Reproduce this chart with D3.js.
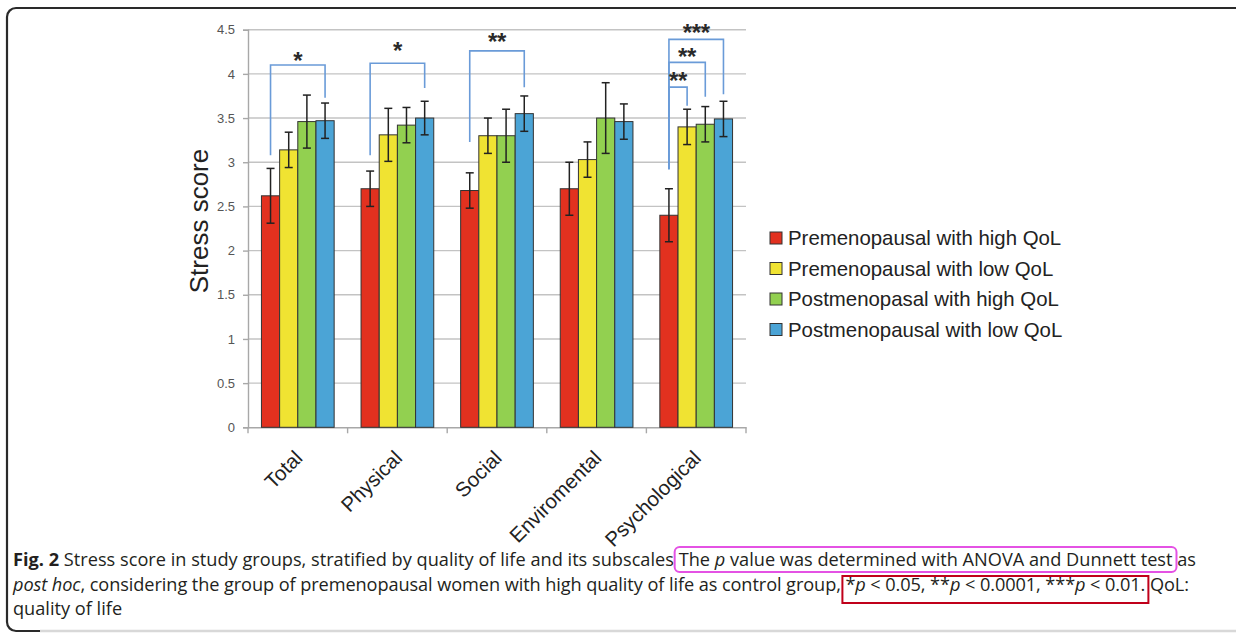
<!DOCTYPE html>
<html><head><meta charset="utf-8">
<script src="https://cdn.jsdelivr.net/npm/d3@7"></script>
<style>
html,body{margin:0;padding:0;background:#fff;}
svg{display:block;}
</style></head>
<body>
<svg id="c" width="1236" height="633"></svg>
<script>
// ---------- data ----------
const categories = ["Total", "Physical", "Social", "Enviromental", "Psychological"];
const seriesNames = ["Premenopausal with high QoL", "Premenopausal with low QoL", "Postmenopasal with high QoL", "Postmenopausal with low QoL"];
const seriesColors = ["#e2311f", "#f0e332", "#92d050", "#4ba4d6"];
const preHigh  = [2.62, 2.70, 2.68, 2.70, 2.40];
const preLow   = [3.14, 3.31, 3.30, 3.03, 3.40];
const postHigh = [3.46, 3.42, 3.30, 3.50, 3.43];
const postLow  = [3.47, 3.50, 3.55, 3.46, 3.49];
const errPreHigh  = [0.31, 0.20, 0.20, 0.30, 0.30];
const errPreLow   = [0.20, 0.30, 0.20, 0.20, 0.20];
const errPostHigh = [0.30, 0.20, 0.30, 0.40, 0.20];
const errPostLow  = [0.20, 0.19, 0.20, 0.20, 0.20];
const yTicks = [0, 0.5, 1, 1.5, 2, 2.5, 3, 3.5, 4, 4.5];
const yTitle = "Stress score";
// significance brackets: [category, from series, to series, y start, y top, y end, label y, label]
const brackets = [
  ["Total", 0, 3, 3.08, 4.10, 3.73, 4.18, "*"],
  ["Physical", 0, 3, 3.08, 4.12, 3.84, 4.29, "*"],
  ["Social", 0, 3, 3.23, 4.26, 3.85, 4.39, "**"],
  ["Psychological", 0, 3, 2.92, 4.39, 3.77, 4.50, "***"],
  ["Psychological", 0, 2, 2.92, 4.13, 3.74, 4.22, "**"],
  ["Psychological", 0, 1, 2.92, 3.85, 3.64, 3.95, "**"]
];
const captionLines = [
  [["b","Fig. 2"],["n"," Stress score in study groups, stratified by quality of life and its subscales "],["n","The "],["i","p"],["n"," value was determined with ANOVA and Dunnett test"],["n"," as"]],
  [["i","post hoc"],["n",", considering the group of premenopausal women with high quality of life as control group, "],["n","*"],["i","p"],["n"," < 0.05, **"],["i","p"],["n"," < 0.0001, ***"],["i","p"],["n"," < 0.01."],["n"," QoL:"]],
  [["n","quality of life"]]
];

const values = [preHigh, preLow, postHigh, postLow];
const errors = [errPreHigh, errPreLow, errPostHigh, errPostLow];

// ---------- layout ----------
const svg = d3.select("#c");
const X0 = 248, X1 = 746, Y0 = 427.3, Y1 = 29.7;
const FONT = "Liberation Sans, Arial, sans-serif";

// frame
svg.append("rect").attr("x", 7).attr("y", 8).attr("width", 1260).attr("height", 623)
  .attr("rx", 9).attr("fill", "none").attr("stroke", "#2a2a2a").attr("stroke-width", 2.2);
svg.append("line").attr("x1", 40).attr("x2", 1236).attr("y1", 631).attr("y2", 631)
  .attr("stroke", "#d8d8d8").attr("stroke-width", 2.4);

const y = d3.scaleLinear().domain([0, 4.5]).range([Y0, Y1]);
const x = d3.scaleBand().domain(categories).range([X0, X1]).paddingInner(0).paddingOuter(0);
const groupW = x.bandwidth() * 0.73;
const xs = d3.scaleBand().domain(d3.range(4)).range([(x.bandwidth() - groupW) / 2, (x.bandwidth() + groupW) / 2]);

const g = svg.append("g");

// gridlines
g.append("g").selectAll("line").data(yTicks.filter(d => d > 0)).join("line")
  .attr("x1", X0).attr("x2", X1).attr("y1", d => y(d)).attr("y2", d => y(d))
  .attr("stroke", "#c3c3c3").attr("stroke-width", 1.4);

// y axis
const yAxis = g.append("g").attr("transform", `translate(${X0},0)`)
  .call(d3.axisLeft(y).tickValues(yTicks).tickFormat(d => String(d)).tickSize(5).tickPadding(8));
yAxis.select(".domain").attr("stroke", "#a8a8a8").attr("stroke-width", 1.4);
yAxis.selectAll(".tick line").attr("stroke", "#a8a8a8").attr("stroke-width", 1.4);
yAxis.selectAll(".tick text").attr("fill", "#555").attr("font-family", FONT).attr("font-size", 13);

// x axis
const xAxis = g.append("g").attr("transform", `translate(0,${Y0})`)
  .call(d3.axisBottom(x).tickSize(0).tickFormat(""));
xAxis.select(".domain").attr("stroke", "#a8a8a8").attr("stroke-width", 1.4);
xAxis.selectAll(".tick").remove();
g.append("g").selectAll("line").data(d3.range(categories.length + 1)).join("line")
  .attr("x1", i => X0 + i * x.step()).attr("x2", i => X0 + i * x.step())
  .attr("y1", Y0).attr("y2", Y0 + 6).attr("stroke", "#a8a8a8").attr("stroke-width", 1.4);

// x labels
g.append("g").selectAll("text").data(categories).join("text")
  .attr("transform", d => `translate(${x(d) + x.bandwidth() / 2 + 6},${Y0 + 32}) rotate(-45)`)
  .attr("text-anchor", "end")
  .attr("font-family", FONT).attr("font-size", 20.5).attr("fill", "#222")
  .text(d => d);

// y title
svg.append("text").attr("transform", `translate(208,221) rotate(-90)`)
  .attr("text-anchor", "middle").attr("font-family", FONT)
  .attr("font-size", 26).attr("fill", "#222").text(yTitle);

// bars
const bars = [];
categories.forEach((c, ci) => values.forEach((s, si) => bars.push({c, ci, si, v: s[ci], e: errors[si][ci]})));
g.append("g").selectAll("rect").data(bars).join("rect")
  .attr("x", d => x(d.c) + xs(d.si)).attr("width", xs.bandwidth())
  .attr("y", d => y(d.v)).attr("height", d => Y0 - y(d.v))
  .attr("fill", d => seriesColors[d.si]).attr("stroke", "#333").attr("stroke-width", 1);

// error bars
const eg = g.append("g").attr("stroke", "#222").attr("stroke-width", 1.5);
bars.forEach(d => {
  const cx = x(d.c) + xs(d.si) + xs.bandwidth() / 2;
  eg.append("line").attr("x1", cx).attr("x2", cx).attr("y1", y(d.v + d.e)).attr("y2", y(d.v - d.e));
  [d.v + d.e, d.v - d.e].forEach(v => eg.append("line").attr("x1", cx - 4).attr("x2", cx + 4).attr("y1", y(v)).attr("y2", y(v)));
});

// brackets
const brg = g.append("g");
brackets.forEach(b => {
  const [c, f, t, ys, yt, ye, ly, lab] = b;
  const xf = x(c) + xs(f) + xs.bandwidth() / 2;
  const xt = x(c) + xs(t) + xs.bandwidth() / 2;
  brg.append("path").attr("d", `M${xf},${y(ys)}V${y(yt)}H${xt}V${y(ye)}`)
    .attr("fill", "none").attr("stroke", "#6a9bd8").attr("stroke-width", 1.6);
  brg.append("text").attr("x", (xf + xt) / 2).attr("y", y(ly) + 11)
    .attr("text-anchor", "middle").attr("font-family", FONT)
    .attr("font-weight", "bold").attr("font-size", 24).attr("letter-spacing", -0.3)
    .attr("fill", "#2a2a2a").text(lab);
});

// legend
const lg = svg.append("g").attr("transform", "translate(770,232)");
seriesNames.forEach((n, i) => {
  const row = lg.append("g").attr("transform", `translate(0,${i * 30.5})`);
  row.append("rect").attr("x", 0).attr("y", 0).attr("width", 12).attr("height", 12)
    .attr("fill", seriesColors[i]).attr("stroke", "#333").attr("stroke-width", 1);
  row.append("text").attr("x", 18).attr("y", 13).attr("font-family", FONT)
    .attr("font-size", 20.4).attr("fill", "#222").text(n);
});

// caption
const capY = [566, 591, 615];
const capW = [1183, 1176, null];
const baseSize = 16;
const capTexts = captionLines.map((line, li) => {
  const t = svg.append("text").attr("x", 13).attr("y", capY[li])
    .attr("font-family", "Open Sans, sans-serif").attr("font-size", baseSize).attr("fill", "#231f20");
  line.forEach(([k, s]) => {
    const ts = t.append("tspan").text(s);
    if (k === "b") ts.attr("font-weight", "bold");
    if (k === "i") ts.attr("font-style", "italic");
  });
  return t;
});
// fit the font size to the first line's width, then spread exactly
const natural = capTexts[0].node().getComputedTextLength();
const fitted = baseSize * capW[0] / natural;
capTexts.forEach((t, li) => {
  t.attr("font-size", fitted);
  if (capW[li]) t.attr("textLength", capW[li]).attr("lengthAdjust", "spacing");
});

// highlight boxes around parts of the caption
function spanBox(textSel, startStr, endStr) {
  const node = textSel.node();
  const full = node.textContent;
  const i0 = full.indexOf(startStr);
  const i1 = full.indexOf(endStr, i0) + endStr.length - 1;
  return [node.getStartPositionOfChar(i0).x, node.getEndPositionOfChar(i1).x];
}
const [pa, pb] = spanBox(capTexts[0], "The ", "Dunnett test");
svg.append("rect").attr("x", pa - 4).attr("y", 547).attr("width", pb - pa + 8).attr("height", 25)
  .attr("rx", 5).attr("fill", "none").attr("stroke", "#e452e4").attr("stroke-width", 2);
const [ra, rb] = spanBox(capTexts[1], "*p", "0.01.");
svg.append("rect").attr("x", ra - 3).attr("y", 576).attr("width", rb - ra + 6).attr("height", 27)
  .attr("fill", "none").attr("stroke", "#c0001a").attr("stroke-width", 2);
</script>
</body></html>
